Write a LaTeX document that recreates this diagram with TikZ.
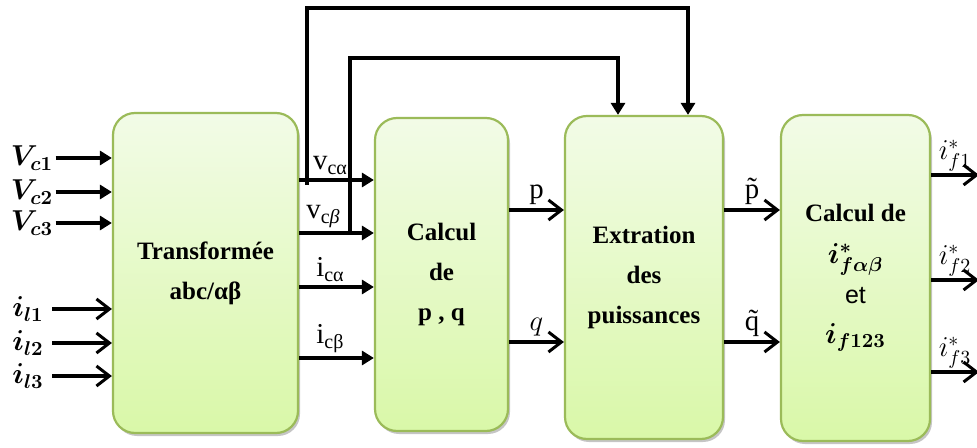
\documentclass[tikz,border=0pt]{standalone}
\usepackage{fontspec}
\setmainfont{Liberation Serif}
\setsansfont{Liberation Sans}
\usepackage{amsmath}
\usepackage{bm}
\usepackage{tikz}
\usetikzlibrary{arrows.meta, positioning, shadows}
\definecolor{blkborder}{RGB}{155,187,89}
\definecolor{blktop}{RGB}{242,251,231}
\definecolor{blkbot}{RGB}{217,248,168}
\tikzset{
    block/.style={draw=blkborder, line width=1.1pt, rounded corners=11pt, top color=blktop, bottom color=blkbot,
        drop shadow={shadow xshift=1pt, shadow yshift=-1.5pt, fill=black!45, opacity=0.5},
        align=center, inner sep=0pt, font=\bfseries\fontsize{12.5}{20}\selectfont},
    tri/.style={-{Triangle[length=6pt, width=7pt]}, line width=1.6pt},
    barb/.style={-{Straight Barb[length=6.5pt, width=10pt, line width=1.5pt]}, line width=1.6pt},
    inlbl/.style={inner sep=1pt, font=\Large},
    sig/.style={inner sep=2pt, font=\Large},
}

\begin{document}
\begin{tikzpicture}[x=0.5pt, y=-0.5pt]
    \useasboundingbox (0,0) rectangle (977,448);
    % blocks
    \node[block, minimum width=92.5pt, minimum height=160pt] (tr) at (205.5,273) {Transformée\\abc/αβ};
    \node[block, minimum width=66.5pt, minimum height=156.5pt] (pq) at (441.5,274.5) {Calcul\\de\\p , q};
    \node[block, minimum width=79pt, minimum height=161.5pt] (ext) at (644,277.5) {Extration\\des\\puissances};
    \node[block, minimum width=74.5pt, minimum height=163pt] (ifc) at (855.5,278)
        {Calcul de\\[1pt] {\Large$\bm{i^{*}_{f\alpha\beta}}$}\\ {\sffamily\mdseries et}\\ {\Large$\bm{i_{f123}}$}};

    % inputs
    \node[inlbl] (vc1) at (32,158) {$\bm{V_{c1}}$};
    \node[inlbl] (vc2) at (32,192) {$\bm{V_{c2}}$};
    \node[inlbl] (vc3) at (32,223) {$\bm{V_{c3}}$};
    \node[inlbl] (il1) at (28,309) {$\bm{i_{l1}}$};
    \node[inlbl] (il2) at (28,343) {$\bm{i_{l2}}$};
    \node[inlbl] (il3) at (28,376) {$\bm{i_{l3}}$};
    \foreach \n in {vc1,vc2,vc3}
        \draw[tri] (\n.east) -- (tr.west |- \n.east);
    \foreach \n in {il1,il2,il3}
        \draw[barb] ([xshift=3pt]\n.east) -- (tr.west |- \n.east);

    % rows of the signals
    \coordinate (rva) at (0,180);
    \coordinate (rvb) at (0,233);
    \coordinate (ria) at (0,287);
    \coordinate (rib) at (0,358);
    \coordinate (rp) at (0,210);
    \coordinate (rq) at (0,342);
    \draw[tri] (tr.east |- rva) -- node[sig, above, xshift=-3pt] {v\textsubscript{cα}} (pq.west |- rva);
    \draw[tri] (tr.east |- rvb) -- node[sig, above, xshift=-6.5pt] {v\textsubscript{c\textit{β}}} (pq.west |- rvb);
    \draw[tri] (tr.east |- ria) -- node[sig, above, xshift=-3pt] {i\textsubscript{cα}} (pq.west |- ria);
    \draw[tri] (tr.east |- rib) -- node[sig, above, xshift=-3pt] {i\textsubscript{cβ}} (pq.west |- rib);
    \draw[barb] (pq.east |- rp) -- node[sig, above] {p} (ext.west |- rp);
    \draw[barb] (pq.east |- rq) -- node[sig, above] {$q$} (ext.west |- rq);
    \draw[barb] (ext.east |- rp) -- node[sig, above] {\~{p}} (ifc.west |- rp);
    \draw[barb] (ext.east |- rq) -- node[sig, above] {\~{q}} (ifc.west |- rq);

    % feedback of the voltages
    \coordinate (fbA) at (307,185);
    \coordinate (topA) at (688,8);
    \coordinate (fbB) at (350,233);
    \coordinate (topB) at (618,58);
    \draw[tri] (fbA) |- (topA) -- (topA |- ext.north);
    \draw[tri] (fbB) |- (topB) -- (topB |- ext.north);

    % outputs
    \coordinate (of1) at (979,175);
    \coordinate (of2) at (979,280);
    \coordinate (of3) at (979,372);
    \draw[barb] (ifc.east |- of1) -- node[inlbl, above] {$i^{*}_{f1}$} (of1);
    \draw[barb] (ifc.east |- of2) -- node[inlbl, above] {$i^{*}_{f2}$} (of2);
    \draw[barb] (ifc.east |- of3) -- node[inlbl, above] {$i^{*}_{f3}$} (of3);
\end{tikzpicture}
\end{document}
